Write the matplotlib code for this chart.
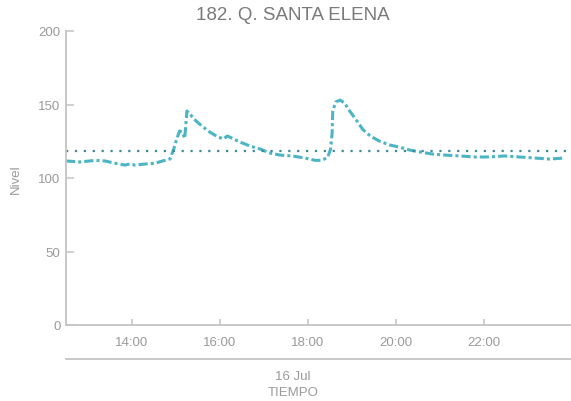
import pandas as pd
import matplotlib
matplotlib.use('Agg')
import matplotlib.pyplot as plt
import matplotlib.dates as mdates

plt.rcParams['font.family'] = ['Liberation Sans', 'DejaVu Sans']

# values (station 182, 16 Jul)
times = ['12:30', '12:49', '13:10', '13:23', '13:37', '13:50', '13:57', '14:04', '14:18', '14:31',
         '14:42', '14:52', '14:57', '15:01', '15:05', '15:09', '15:12', '15:15', '15:19', '15:27',
         '15:37', '15:46', '15:57', '16:05', '16:10', '16:16', '16:27', '16:41', '16:55', '17:08',
         '17:22', '17:38', '17:56', '18:10', '18:19', '18:27', '18:31', '18:33', '18:34', '18:38',
         '18:44', '18:50', '18:57', '19:07', '19:15', '19:25', '19:38', '19:52', '20:05', '20:19',
         '20:33', '20:50', '21:07', '21:27', '21:48', '22:08', '22:28', '22:49', '23:09', '23:30',
         '23:50']
nivel = [111.6, 110.9, 112.0, 111.6, 110.0, 108.8, 109.5, 108.8, 109.5, 110.0,
         111.6, 113.0, 119.7, 126.5, 132.0, 131.0, 127.0, 145.6, 143.5, 139.0,
         134.7, 131.3, 128.0, 126.5, 128.6, 127.2, 124.5, 121.8, 119.7, 117.0,
         115.6, 115.0, 113.6, 112.0, 112.0, 114.0, 119.7, 130.0, 145.6, 151.7,
         153.0, 151.0, 145.6, 138.8, 133.0, 128.6, 125.0, 122.4, 121.0, 119.0,
         117.7, 116.3, 115.6, 115.0, 114.3, 114.3, 115.0, 114.3, 113.6, 112.9,
         113.6]
umbral = 118.4
dia = '2023-07-16'

x = pd.to_datetime([dia + ' ' + t for t in times])
gray = '#9a9a9a'
axis_gray = '#c4c4c4'

fig = plt.figure(figsize=(5.71, 4.02), dpi=100)
ax = fig.add_axes([66 / 571, 1 - 326 / 402, 1 - 66 / 571, 294 / 402])

ax.plot(x, nivel, color='#4bb5c3', lw=2.2, dashes=(3, 1, 1, 1))
ax.axhline(umbral, color='#3a8a9c', lw=1.6, ls=(0, (1, 3)))

ax.set_xlim(pd.Timestamp(dia + ' 12:30'), pd.Timestamp(dia + ' 23:59'))
ax.set_ylim(0, 200)
ax.set_yticks([0, 50, 100, 150, 200])
ax.xaxis.set_major_locator(mdates.HourLocator(byhour=[14, 16, 18, 20, 22]))
ax.xaxis.set_major_formatter(mdates.DateFormatter('%H:%M'))

for s in ['top', 'right']:
    ax.spines[s].set_visible(False)
for s in ['left', 'bottom']:
    ax.spines[s].set_color(axis_gray)
    ax.spines[s].set_linewidth(1.3)
ax.tick_params(axis='y', direction='in', length=6, width=1.1, color=axis_gray,
               labelcolor=gray, labelsize=9.5, pad=4)
ax.tick_params(axis='x', direction='in', length=4, width=1.1, color=axis_gray,
               labelcolor=gray, labelsize=9.5, pad=8)

ax.set_ylabel('Nivel', color=gray, fontsize=9.5, labelpad=12)

# second level of the time axis
ax.plot([0, 1], [-34 / 294, -34 / 294], transform=ax.transAxes, color=axis_gray,
        lw=1.3, clip_on=False)
fig.text(293 / 571, 1 - 377 / 402, '16 Jul', ha='center', va='center', color=gray, fontsize=9.5)
fig.text(293 / 571, 1 - 393 / 402, 'TIEMPO', ha='center', va='center', color=gray, fontsize=9.5)

fig.text(293 / 571, 1 - 16 / 402, '182. Q. SANTA ELENA', ha='center', va='center',
         color='#7a7a7a', fontsize=13.5)

fig.savefig('out.png', dpi=100)
